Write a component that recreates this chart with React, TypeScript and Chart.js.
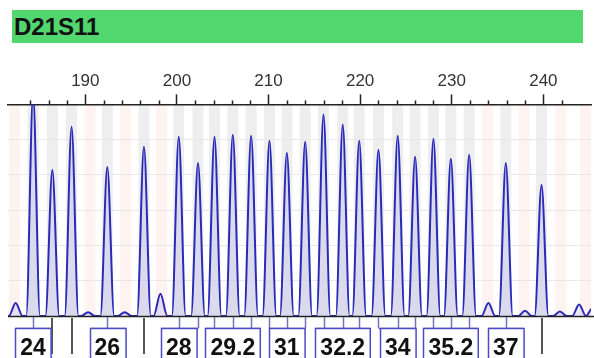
import React, { useEffect, useRef } from 'react';
import { Chart, registerables } from 'chart.js';

Chart.register(...registerables);

const markerName = 'D21S11';

// Allelic ladder peaks (allele name, size in bp, height in RFU)
const alleleNames = ['24', '24.2', '25', '26', '27', '28', '28.2', '29', '29.2', '30', '30.2', '31', '31.2', '32', '32.2', '33', '33.2', '34', '34.2', '35', '35.2', '36', '37', '38'];
const alleleSizes = [184.3, 186.4, 188.5, 192.4, 196.4, 200.2, 202.3, 204.1, 206.1, 208.1, 210.1, 212.0, 214.0, 216.0, 218.1, 219.9, 222.0, 224.1, 226.0, 228.0, 229.9, 231.9, 235.9, 239.8];
const alleleHeights = [2900, 1905, 2470, 1945, 2208, 2339, 1997, 2339, 2365, 2352, 2286, 2129, 2273, 2628, 2497, 2286, 2168, 2352, 2076, 2313, 2050, 2102, 1997, 1708];

// Labels that are visible in boxes, and alleles marked only by a dark line
const shownLabels = ['24', '26', '28', '29.2', '31', '32.2', '34', '35.2', '37'];
const darkMarkAlleles = ['24.2', '25', '27', '38'];

// Small non-ladder peaks (stutter / noise)
const extraPeakSizes = [182.4, 190.3, 194.3, 198.2, 234.0, 238.0, 241.8, 243.9, 245.4];
const extraPeakHeights = [170, 50, 50, 290, 170, 70, 60, 150, 110];

// Virtual (off-ladder) bins
const virtualBinSizes = [182.3, 190.5, 194.4, 198.3, 233.9, 237.9, 241.9, 244.6];

const X_MIN = 181.56;
const X_MAX = 245.2;
const Y_MAX = 2760;
const Y_STEP = 500;
const PEAK_HALF_WIDTH = 0.75;
const BIN_HALF_WIDTH = 0.6;

function buildTrace() {
  const peaks = [
    ...alleleSizes.map((s, i) => ({ s, h: alleleHeights[i] })),
    ...extraPeakSizes.map((s, i) => ({ s, h: extraPeakHeights[i] })),
  ].sort((a, b) => a.s - b.s);
  const pts: { x: number; y: number }[] = [{ x: X_MIN - 1, y: 0 }];
  for (const p of peaks) {
    pts.push({ x: p.s - PEAK_HALF_WIDTH, y: 0 }, { x: p.s, y: p.h }, { x: p.s + PEAK_HALF_WIDTH, y: 0 });
  }
  return pts;
}

const binPlugin = {
  id: 'bins',
  beforeDraw(chart: any) {
    const { ctx, chartArea, scales } = chart;
    const xs = scales.x;
    ctx.save();
    ctx.beginPath();
    ctx.rect(chartArea.left, chartArea.top, chartArea.right - chartArea.left, chartArea.bottom - chartArea.top);
    ctx.clip();
    ctx.fillStyle = 'rgb(254,243,240)';
    for (const s of virtualBinSizes) {
      const a = xs.getPixelForValue(s - BIN_HALF_WIDTH);
      const b = xs.getPixelForValue(s + BIN_HALF_WIDTH);
      ctx.fillRect(a, chartArea.top, b - a, chartArea.bottom - chartArea.top);
    }
    ctx.fillStyle = 'rgb(238,238,238)';
    for (const s of alleleSizes) {
      const a = xs.getPixelForValue(s - BIN_HALF_WIDTH);
      const b = xs.getPixelForValue(s + BIN_HALF_WIDTH);
      ctx.fillRect(a, chartArea.top, b - a, chartArea.bottom - chartArea.top);
    }
    ctx.restore();
  },
  afterDraw(chart: any) {
    const { ctx, chartArea, scales } = chart;
    const xs = scales.x;
    ctx.save();
    // minor ticks on top axis
    ctx.strokeStyle = '#222';
    ctx.lineWidth = 1.5;
    for (const t of xs.ticks) {
      const v = t.value;
      if (Math.abs(v - Math.round(v)) > 1e-6) continue;
      if (Math.round(v) % 2 !== 0 || Math.round(v) % 10 === 0) continue;
      const px = Math.round(xs.getPixelForValue(v)) + 0.5;
      ctx.beginPath();
      ctx.moveTo(px, chartArea.top);
      ctx.lineTo(px, chartArea.top - 4);
      ctx.stroke();
    }
    // baseline
    ctx.beginPath();
    ctx.moveTo(chartArea.left, chartArea.bottom + 0.5);
    ctx.lineTo(chart.width, chartArea.bottom + 0.5);
    ctx.stroke();

    const base = chartArea.bottom + 1;
    const boxTop = base + 11;
    // assign each allele to a group of a shown label
    const shownIdx = shownLabels.map((l) => alleleNames.indexOf(l));
    const groups: Record<number, number[]> = {};
    shownIdx.forEach((i) => (groups[i] = [i]));
    alleleNames.forEach((name, i) => {
      if (shownLabels.includes(name) || darkMarkAlleles.includes(name)) return;
      let best = shownIdx[0];
      for (const j of shownIdx) {
        if (Math.abs(alleleSizes[j] - alleleSizes[i]) < Math.abs(alleleSizes[best] - alleleSizes[i])) best = j;
      }
      groups[best].push(i);
    });
    // dark markers
    ctx.strokeStyle = '#555';
    ctx.lineWidth = 2;
    for (const name of darkMarkAlleles) {
      const i = alleleNames.indexOf(name);
      const px = Math.round(xs.getPixelForValue(alleleSizes[i]));
      ctx.beginPath();
      ctx.moveTo(px, base + 1);
      ctx.lineTo(px, base + 37);
      ctx.stroke();
    }
    // connectors and label boxes
    ctx.lineWidth = 1.5;
    ctx.font = 'bold 23px "Liberation Sans", Arial, sans-serif';
    ctx.textAlign = 'center';
    ctx.textBaseline = 'alphabetic';
    for (const gi of shownIdx) {
      const members = groups[gi];
      const pxs = members.map((i) => Math.round(xs.getPixelForValue(alleleSizes[i])) + 0.5);
      ctx.strokeStyle = '#7373b5';
      for (const px of pxs) {
        ctx.beginPath();
        ctx.moveTo(px, base);
        ctx.lineTo(px, boxTop);
        ctx.stroke();
      }
      const cx = xs.getPixelForValue(alleleSizes[gi]);
      const label = alleleNames[gi];
      const w = ctx.measureText(label).width + 10;
      const bx = Math.round(cx - w / 2) + 0.5;
      const minX = Math.min(bx, ...pxs);
      const maxX = Math.max(bx + w, ...pxs);
      ctx.beginPath();
      ctx.moveTo(minX, boxTop + 0.5);
      ctx.lineTo(maxX, boxTop + 0.5);
      ctx.stroke();
      ctx.fillStyle = '#fff';
      ctx.fillRect(bx, boxTop + 1, w, 40);
      ctx.strokeStyle = '#4b4bc4';
      ctx.strokeRect(bx, boxTop + 0.5, w, 40);
      ctx.fillStyle = '#111';
      ctx.fillText(label, cx, chart.height - 3);
    }
    ctx.restore();
  },
};

export default function App() {
  const ref = useRef<HTMLCanvasElement | null>(null);
  useEffect(() => {
    if (!ref.current) return;
    const chart = new Chart(ref.current, {
      type: 'line',
      data: {
        datasets: [
          {
            label: markerName,
            data: buildTrace(),
            borderColor: '#2a2ab8',
            borderWidth: 2,
            backgroundColor: 'rgba(110,110,225,0.15)',
            fill: 'origin',
            pointRadius: 0,
            cubicInterpolationMode: 'monotone',
          },
        ],
      },
      options: {
        animation: false,
        responsive: true,
        maintainAspectRatio: false,
        layout: { padding: { top: 68, left: 8, right: 0, bottom: 42 } },
        plugins: { legend: { display: false }, tooltip: { enabled: false } },
        scales: {
          x: {
            type: 'linear',
            position: 'top',
            min: X_MIN,
            max: X_MAX,
            ticks: {
              stepSize: 2,
              autoSkip: false,
              maxRotation: 0,
              padding: 3,
              color: '#333',
              font: { size: 17, family: '"Liberation Sans", Arial, sans-serif' },
              callback: (v: any) => (Math.abs(v % 10) < 1e-6 ? String(v) : ''),
            },
            grid: {
              drawOnChartArea: false,
              drawTicks: true,
              tickLength: 10,
              tickWidth: 1.5,
              tickColor: (c: any) => (c.tick && Math.abs(c.tick.value % 10) < 1e-6 ? '#222' : 'rgba(0,0,0,0)'),
            },
            border: { display: true, color: '#222', width: 1.5 },
          },
          y: {
            min: 0,
            max: Y_MAX,
            ticks: { display: false, stepSize: Y_STEP },
            grid: { color: '#e8e8e8', drawTicks: false, lineWidth: 1 },
            border: { display: false },
          },
        },
      },
      plugins: [binPlugin],
    });
    return () => chart.destroy();
  }, []);

  return (
    <div style={{ position: 'absolute', left: 0, top: 0, width: 594, height: 358, background: '#fff' }}>
      <div
        style={{
          position: 'absolute',
          left: 12,
          top: 10,
          width: 571,
          height: 33,
          background: '#52d66e',
          color: '#111',
          fontFamily: '"Liberation Sans", Arial, sans-serif',
          fontWeight: 'bold',
          fontSize: 24,
          lineHeight: '33px',
          paddingLeft: 2,
          boxSizing: 'border-box',
          zIndex: 1,
        }}
      >
        {markerName}
      </div>
      <canvas ref={ref} width={594} height={358} />
    </div>
  );
}
